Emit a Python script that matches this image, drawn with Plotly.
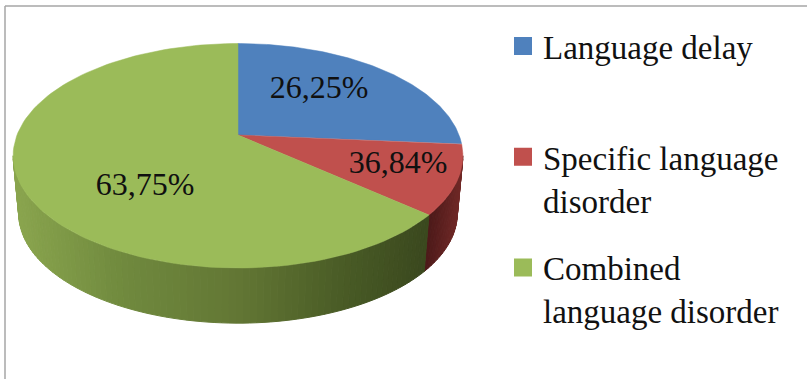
import numpy as np
import plotly.graph_objects as go

# Data
categories = ["Language delay", "Specific language<br>disorder", "Combined<br>language disorder"]
slice_shares = [26.25, 10.0, 63.75]            # drawn angle of each slice, percent
printed_labels = ["26,25%", "36,84%", "63,75%"]  # labels as printed in the chart
face_colors = ["#4F81BD", "#C0504D", "#9BBB59"]

# Pixel-space layout of the tilted disc
W, H = 807, 379
CX, CY = 238, 135
RX, RY, K = 221, 108.4, 0.1848
DROP_CY, DROP_SCALE = 193.5, 0.975
label_x = [319, 398, 145]
label_y = [90, 165, 187]

# wall shading stops: x pixel -> colour, per slice
wall_stops = {
    1: [(425, (72, 24, 24)), (462, (112, 40, 38))],
    2: [(13, (138, 165, 78)), (120, (112, 138, 62)), (240, (98, 118, 52)),
        (340, (74, 92, 38)), (430, (58, 72, 30))],
}


def project(theta, cy=CY, scale=1.0):
    theta = np.asarray(theta, dtype=float)
    u, v = np.sin(theta), np.cos(theta)
    d = 1 + K * v
    return CX + scale * RX * u / d, cy - scale * RY * v / d


def shade(stops, x):
    xs = [s[0] for s in stops]
    rgb = [float(np.interp(x, xs, [s[1][i] for s in stops])) for i in range(3)]
    return "rgb(%d,%d,%d)" % tuple(round(c) for c in rgb)


fig = go.Figure()
edges = np.radians(np.concatenate([[0], np.cumsum(slice_shares) * 3.6]))
edge_limit = np.arcsin(K)  # where the rim turns away from the viewer
vis_from, vis_to = np.pi / 2 + edge_limit, 3 * np.pi / 2 - edge_limit

# outer wall as thin shaded strips
for i, stops in wall_stops.items():
    a, b = max(edges[i], vis_from), min(edges[i + 1], vis_to)
    n = max(2, int((b - a) / np.radians(1.5)))
    grid = np.linspace(a, b, n + 1)
    for t0, t1 in zip(grid[:-1], grid[1:]):
        tt = np.array([t0, t1])
        x_top, y_top = project(tt)
        x_bot, y_bot = project(tt, DROP_CY, DROP_SCALE)
        col = shade(stops, float(x_top.mean()))
        fig.add_trace(go.Scatter(
            x=[x_top[0], x_top[1], x_bot[1], x_bot[0], x_top[0]],
            y=[y_top[0], y_top[1], y_bot[1], y_bot[0], y_top[0]],
            mode="lines", fill="toself", fillcolor=col,
            line=dict(color=col, width=1), hoverinfo="skip", showlegend=False))

# top faces
for i, col in enumerate(face_colors):
    tt = np.linspace(edges[i], edges[i + 1], 120)
    ex, ey = project(tt)
    fig.add_trace(go.Scatter(
        x=np.concatenate([[CX], ex, [CX]]), y=np.concatenate([[CY], ey, [CY]]),
        mode="lines", fill="toself", fillcolor=col, line=dict(color=col, width=0.5),
        name=categories[i].replace("<br>", " "), showlegend=False))

# legend entries
for i, (name, col) in enumerate(zip(categories, face_colors)):
    fig.add_trace(go.Scatter(
        x=[None], y=[None], mode="markers", name=name if "<br>" in name else name + "<br> ",
        legendgroup=str(i),
        marker=dict(symbol="square", size=16, color=col, line=dict(color=col, width=2))))

# printed labels
fig.add_trace(go.Scatter(
    x=label_x, y=label_y, mode="text", text=printed_labels, showlegend=False,
    textfont=dict(family="Liberation Serif", size=32, color="#101010")))

fig.update_layout(
    width=W, height=H, margin=dict(l=0, r=0, t=0, b=0),
    paper_bgcolor="white", plot_bgcolor="white",
    xaxis=dict(range=[0, W], visible=False, fixedrange=True),
    yaxis=dict(range=[H, 0], visible=False, fixedrange=True),
    legend=dict(x=503 / W, y=1 - 18 / H, xanchor="left", yanchor="top",
                valign="top", tracegroupgap=22, traceorder="grouped",
                bgcolor="rgba(0,0,0,0)", itemsizing="trace",
                font=dict(family="Liberation Serif", size=33, color="#111111")),
    shapes=[
        dict(type="line", xref="x", yref="y", x0=5, x1=W, y0=6, y1=6,
             line=dict(color="#a6a6a6", width=1.5)),
        dict(type="line", xref="x", yref="y", x0=5, x1=5, y0=6, y1=H,
             line=dict(color="#a6a6a6", width=1.5)),
    ],
)
fig.write_html("out.html", config=dict(displayModeBar=False),
               post_script="document.body.style.margin='0';document.documentElement.style.overflow='hidden';")
